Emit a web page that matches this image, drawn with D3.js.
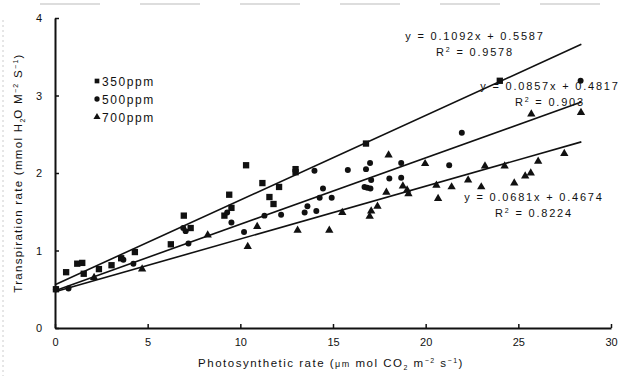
<!DOCTYPE html>
<html lang="en">
<head>
<meta charset="utf-8">
<title>Transpiration vs photosynthesis</title>
<script src="https://d3js.org/d3.v7.min.js"></script>
<style>
  body { margin: 0; background: #fff; }
  text { font-family: Arial, "Liberation Sans", sans-serif; fill: #111; }
</style>
</head>
<body>
<script>
// 350 ppm (squares)
var x350 = [0.05, 0.6, 1.2, 1.47, 1.55, 2.37, 3.05, 3.57, 4.31, 6.25, 6.95, 7.32, 9.14, 9.40, 9.52, 10.31, 11.19, 11.57, 11.79, 12.09, 12.98, 12.98, 16.78, 24.0];
var y350 = [0.50, 0.72, 0.83, 0.84, 0.70, 0.76, 0.81, 0.90, 0.98, 1.08, 1.45, 1.29, 1.45, 1.72, 1.55, 2.10, 1.87, 1.69, 1.60, 1.82, 2.05, 2.01, 2.38, 3.19];
// 500 ppm (circles)
var x500 = [0.05, 0.73, 3.69, 4.23, 6.92, 7.05, 7.2, 9.29, 9.52, 10.2, 11.3, 12.2, 13.47, 13.62, 14.0, 14.1, 14.28, 14.46, 14.93, 15.8, 16.78, 16.7, 16.85, 17.0, 17.02, 17.06, 18.04, 18.68, 18.68, 21.27, 21.95, 28.36];
var y500 = [0.50, 0.51, 0.88, 0.83, 1.29, 1.25, 1.09, 1.49, 1.36, 1.24, 1.45, 1.46, 1.49, 1.57, 2.03, 1.51, 1.68, 1.80, 1.68, 2.04, 2.05, 1.82, 1.81, 2.13, 1.80, 1.91, 1.93, 2.13, 1.94, 2.10, 2.52, 3.19];
// 700 ppm (triangles)
var x700 = [2.11, 4.70, 8.24, 10.4, 10.91, 13.09, 14.8, 15.5, 16.98, 17.06, 17.4, 17.88, 18.0, 18.77, 19.0, 19.07, 19.97, 20.58, 20.67, 21.4, 22.29, 23.0, 23.2, 24.26, 24.78, 25.37, 25.67, 25.7, 26.07, 27.48, 28.38];
var y700 = [0.65, 0.76, 1.20, 1.05, 1.31, 1.26, 1.26, 1.49, 1.44, 1.51, 1.57, 1.75, 2.23, 1.83, 1.78, 1.73, 2.12, 1.84, 1.67, 1.82, 1.91, 1.82, 2.09, 2.09, 1.87, 1.96, 2.00, 2.76, 2.15, 2.25, 2.78];

var seriesNames = ["350ppm", "500ppm", "700ppm"];
var slopes = [0.1092, 0.0857, 0.0681];
var intercepts = [0.5587, 0.4817, 0.4674];
var r2Labels = ["0.9578", "0.903", "0.8224"];
var fitEnd = 28.4;
var xTicks = [0, 5, 10, 15, 20, 25, 30];
var yTicks = [0, 1, 2, 3, 4];

var w = 622, h = 376;
var svg = d3.select("body").append("svg").attr("width", w).attr("height", h);

var xScale = d3.scaleLinear().domain([0, 30]).range([55, 611]);
var yScale = d3.scaleLinear().domain([0, 4]).range([328, 18]);

// faint scan border
svg.append("line").attr("x1", 40).attr("x2", 600).attr("y1", 4).attr("y2", 4)
  .attr("stroke", "#bbb").attr("stroke-dasharray", "60,40").attr("stroke-width", 1);
svg.append("line").attr("x1", 3).attr("x2", 3).attr("y1", 20).attr("y2", 376)
  .attr("stroke", "#ccc").attr("stroke-dasharray", "2,3").attr("stroke-width", 1);

// axes, ticks pointing inward
var xAxis = d3.axisBottom(xScale).tickValues(xTicks).tickFormat(d3.format("d"))
  .tickSizeInner(-4).tickSizeOuter(0).tickPadding(10);
var yAxis = d3.axisLeft(yScale).tickValues(yTicks).tickFormat(d3.format("d"))
  .tickSizeInner(-4).tickSizeOuter(0).tickPadding(13);

var gx = svg.append("g").attr("transform", "translate(0," + yScale(0) + ")").call(xAxis);
var gy = svg.append("g").attr("transform", "translate(" + xScale(0) + ",0)").call(yAxis);
[gx, gy].forEach(function(g) {
  g.select(".domain").attr("stroke", "#111").attr("stroke-width", 2);
  g.selectAll(".tick line").attr("stroke", "#111").attr("stroke-width", 1.5);
  g.selectAll(".tick text").attr("font-size", 11).attr("fill", "#111")
    .style("font-family", "Arial, 'Liberation Sans', sans-serif");
});

// regression lines
seriesNames.forEach(function(n, i) {
  svg.append("line")
    .attr("x1", xScale(0)).attr("y1", yScale(intercepts[i]))
    .attr("x2", xScale(fitEnd)).attr("y2", yScale(intercepts[i] + slopes[i] * fitEnd))
    .attr("stroke", "#111").attr("stroke-width", 1.6);
});

// points
var shapes = [d3.symbolSquare, d3.symbolCircle, d3.symbolTriangle];
var sizes = [40, 28, 30];
var xs = [x350, x500, x700], ys = [y350, y500, y700];
xs.forEach(function(xv, i) {
  var pts = xv.map(function(v, j) { return [v, ys[i][j]]; });
  svg.append("g").selectAll("path").data(pts).enter().append("path")
    .attr("d", d3.symbol().type(shapes[i]).size(sizes[i]))
    .attr("transform", function(d) { return "translate(" + xScale(d[0]) + "," + yScale(d[1]) + ")"; })
    .attr("fill", "#111");
});

// legend
var legend = svg.append("g").attr("transform", "translate(97,81)");
seriesNames.forEach(function(n, i) {
  var row = legend.append("g").attr("transform", "translate(0," + (i * 18) + ")");
  row.append("path").attr("d", d3.symbol().type(shapes[i]).size(22)).attr("fill", "#111");
  row.append("text").attr("x", 5).attr("y", 4.5).attr("font-size", 12)
    .attr("letter-spacing", 1.6).text(n);
});

// equations
var eqPos = [[475, 40, 56], [550, 90, 106], [534, 201, 217]];
seriesNames.forEach(function(n, i) {
  var t1 = svg.append("text").attr("x", eqPos[i][0]).attr("y", eqPos[i][1])
    .attr("text-anchor", "middle").attr("font-size", 11).attr("letter-spacing", 1.8)
    .text("y = " + slopes[i] + "x + " + intercepts[i]);
  var t2 = svg.append("text").attr("x", eqPos[i][0]).attr("y", eqPos[i][2])
    .attr("text-anchor", "middle").attr("font-size", 11).attr("letter-spacing", 1.8);
  t2.append("tspan").text("R");
  t2.append("tspan").attr("dy", -4).attr("font-size", 7).text("2");
  t2.append("tspan").attr("dy", 4).text(" = " + r2Labels[i]);
});

// axis titles
var xt = svg.append("text").attr("x", 331).attr("y", 367).attr("text-anchor", "middle")
  .attr("font-size", 11.5).attr("letter-spacing", 1.5);
xt.append("tspan").text("Photosynthetic rate (");
xt.append("tspan").attr("font-size", 9).text("μm");
xt.append("tspan").text(" mol CO");
xt.append("tspan").attr("dy", 3).attr("font-size", 7).text("2");
xt.append("tspan").attr("dy", -3).text(" m");
xt.append("tspan").attr("dy", -4).attr("font-size", 7).text("−2");
xt.append("tspan").attr("dy", 4).text(" s");
xt.append("tspan").attr("dy", -4).attr("font-size", 7).text("−1");
xt.append("tspan").attr("dy", 4).text(")");

var yt = svg.append("text").attr("transform", "translate(22,173) rotate(-90)")
  .attr("text-anchor", "middle").attr("font-size", 11.5).attr("letter-spacing", 1.3);
yt.append("tspan").text("Transpiration rate (mmol H");
yt.append("tspan").attr("dy", 3).attr("font-size", 7).attr("letter-spacing", 0).text("2");
yt.append("tspan").attr("dy", -3).text("O M");
yt.append("tspan").attr("dy", -4).attr("font-size", 7).text("−2");
yt.append("tspan").attr("dy", 4).text(" S");
yt.append("tspan").attr("dy", -4).attr("font-size", 7).text("−1");
yt.append("tspan").attr("dy", 4).text(")");
</script>
</body>
</html>
